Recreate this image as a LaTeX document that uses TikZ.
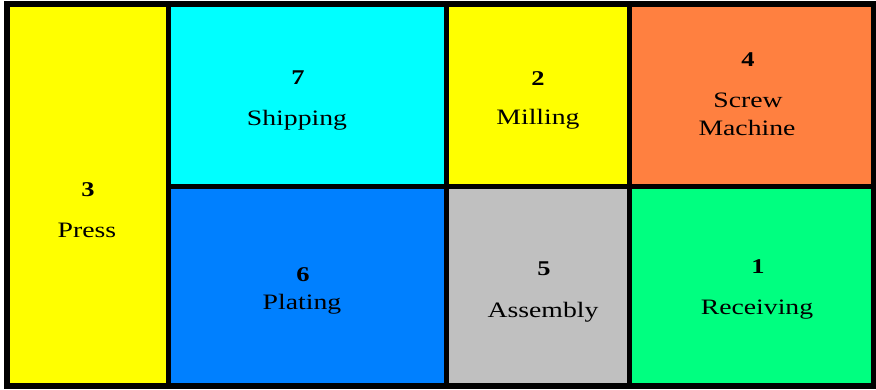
\documentclass[tikz,border=0pt]{standalone}
\usepackage{fontspec}
\setmainfont[FakeStretch=1.26]{Liberation Serif}
\definecolor{cyel}{HTML}{FFFF00}
\definecolor{ccyan}{HTML}{00FFFF}
\definecolor{corange}{HTML}{FF8040}
\definecolor{cblue}{HTML}{0080FF}
\definecolor{cgray}{HTML}{C0C0C0}
\definecolor{cgreen}{HTML}{00FF80}
\begin{document}
\begin{tikzpicture}[x=1pt,y=-1pt,
  cell/.style={draw=black,line width=5pt},
  num/.style={anchor=base,inner sep=0pt,font=\fontsize{21}{24}\selectfont\bfseries},
  lab/.style={anchor=base,inner sep=0pt,font=\fontsize{22}{28}\selectfont}]
\useasboundingbox (0,0) rectangle (876,390);
\fill[white] (0,0) rectangle (876,390);
% cells
\path[cell,fill=cyel]    (6.5,4.5) rectangle (168,385.5);
\path[cell,fill=ccyan]   (168,4.5) rectangle (446.5,187);
\path[cell,fill=cyel]    (446.5,4.5) rectangle (629.5,187);
\path[cell,fill=corange] (629.5,4.5) rectangle (873.5,187);
\path[cell,fill=cblue]   (168,187) rectangle (446.5,385.5);
\path[cell,fill=cgray]   (446.5,187) rectangle (629.5,385.5);
\path[cell,fill=cgreen]  (629.5,187) rectangle (873.5,385.5);
\draw[line width=6pt] (6.5,4.5) rectangle (873.5,385.5);
% labels
\node[num] (n3) at (88,197) {3};
\node[lab] (t3) at (87,238) {Press};
\node[num] (n7) at (298,85) {7};
\node[lab] (t7) at (297,126) {Shipping};
\node[num] (n2) at (538,86) {2};
\node[lab] (t2) at (538,125) {Milling};
\node[num] (n4) at (748,67) {4};
\node[lab] (t4a) at (748,108) {Screw};
\node[lab] (t4b) at (747,136) {Machine};
\node[num] (n6) at (303,282) {6};
\node[lab] (t6) at (302,309) {Plating};
\node[num] (n5) at (544,276) {5};
\node[lab] (t5) at (543,317) {Assembly};
\node[num] (n1) at (758,274) {1};
\node[lab] (t1) at (757,315) {Receiving};
\end{tikzpicture}
\end{document}
